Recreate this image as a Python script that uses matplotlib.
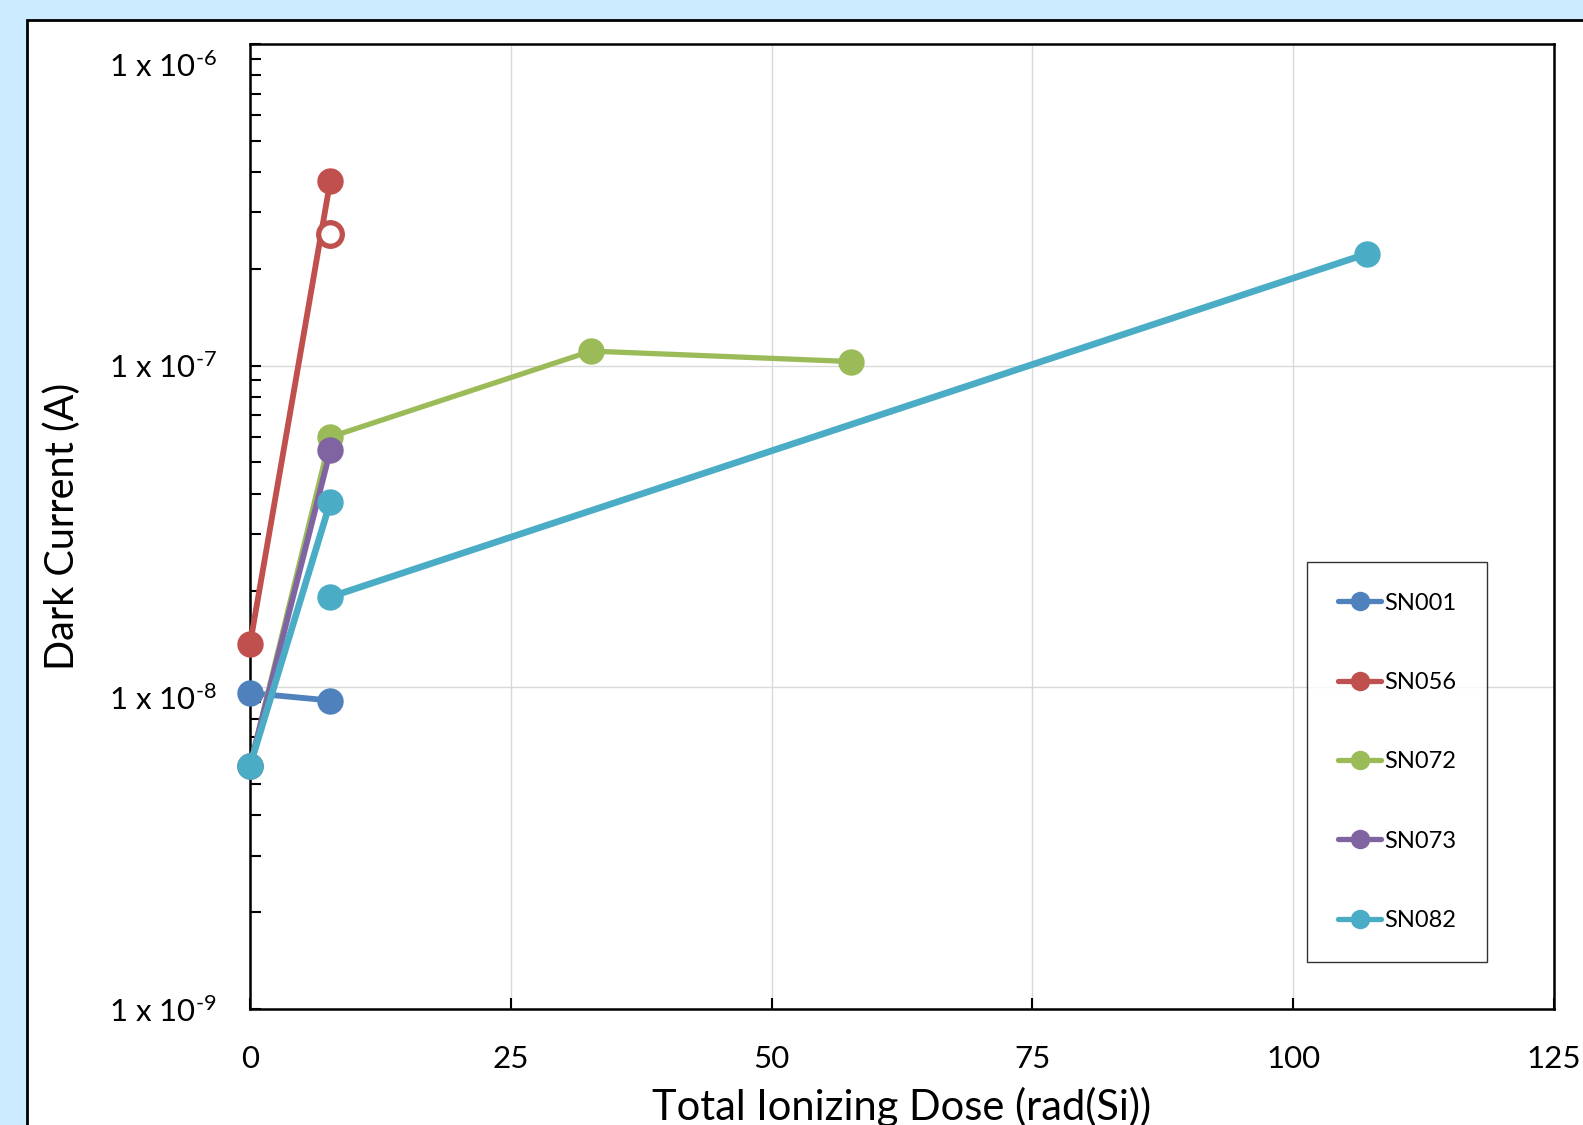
import numpy as np
import matplotlib
matplotlib.use('Agg')
import matplotlib.pyplot as plt
import matplotlib.transforms as mtransforms
from matplotlib.patches import Rectangle
from matplotlib.ticker import FixedLocator, FuncFormatter, NullFormatter

plt.rcParams['font.family'] = ['Lato', 'DejaVu Sans']
plt.rcParams['mathtext.fontset'] = 'custom'
plt.rcParams['mathtext.rm'] = 'Lato'
plt.rcParams['mathtext.default'] = 'regular'

# dose (rad(Si)) and dark current (A) per device; nan splits a series into runs
sn001_dose = [0.0, 7.7]
sn001_cur = [9.6e-9, 9.1e-9]
sn056_dose = [0.0, 7.7]
sn056_cur = [1.36e-8, 3.76e-7]
sn056_open_dose = [7.7]
sn056_open_cur = [2.56e-7]
sn072_dose = [0.0, 7.7, 32.7, 57.6]
sn072_cur = [5.7e-9, 6.0e-8, 1.11e-7, 1.03e-7]
sn073_dose = [0.0, 7.7]
sn073_cur = [5.7e-9, 5.45e-8]
sn082_dose = [0.0, 7.7, np.nan, 7.7, 107.1]
sn082_cur = [5.7e-9, 3.77e-8, np.nan, 1.91e-8, 2.23e-7]

names = ['SN001', 'SN056', 'SN072', 'SN073', 'SN082']
colors = ['#4F81BD', '#C0504D', '#9BBB59', '#8064A2', '#4BACC6']

x_ticks = [0, 25, 50, 75, 100, 125]
y_ticks = [1e-9, 1e-8, 1e-7, 1e-6]
# vertical nudge (px) of each y tick label
y_label_shift = [0, -10, 0, -20]

W, H = 1583, 1125
fig = plt.figure(figsize=(W / 100, H / 100), dpi=100)
fig.patch.set_facecolor('#CCEBFE')

# white chart panel with a black border
panel = Rectangle((27 / W, -0.1), 1.2, 1 - 20 / H + 0.1, transform=fig.transFigure,
                  facecolor='white', edgecolor='black', linewidth=2.0, zorder=-10)
fig.add_artist(panel)

ax = fig.add_axes([250 / W, 1 - 1009 / H, 1304 / W, 965 / H])
ax.set_yscale('log')
ax.set_xlim(0, 125)
ax.set_ylim(1e-9, 1e-6)

series = [(sn001_dose, sn001_cur), (sn056_dose, sn056_cur), (sn072_dose, sn072_cur),
          (sn073_dose, sn073_cur), (sn082_dose, sn082_cur)]
widths = [4.2, 4.2, 3.8, 4.2, 4.8]
for (d, c), name, col, lw in zip(series, names, colors, widths):
    ax.plot(d, c, color=col, lw=lw, marker='o', ms=18, label=name, zorder=3,
            clip_on=False, solid_capstyle='round')

# open marker on SN056
ax.plot(sn056_open_dose, sn056_open_cur, 'o', ms=17, mfc='white', mec=colors[1],
        mew=3.8, zorder=4)

ax.xaxis.set_major_locator(FixedLocator(x_ticks))
ax.yaxis.set_major_locator(FixedLocator(y_ticks))
ax.yaxis.set_major_formatter(FuncFormatter(
    lambda v, p: '1 x 10$^{\\text{%d}}$' % int(round(np.log10(v)))))
ax.yaxis.set_minor_formatter(NullFormatter())

ax.grid(True, which='major', color='#D9D9D9', lw=1.0, zorder=0)
ax.set_axisbelow(True)
ax.tick_params(axis='both', which='both', direction='in', length=8, width=1.5,
               labelsize=22.5, colors='black')
ax.tick_params(axis='y', which='both', pad=24, right=False)
ax.tick_params(axis='x', pad=26, top=False)
for s in ax.spines.values():
    s.set_linewidth(1.8)

for t, dy in zip(ax.yaxis.get_major_ticks(len(y_ticks)), y_label_shift):
    t.label1.set_transform(t.label1.get_transform() +
                           mtransforms.ScaledTranslation(0, dy / 100, fig.dpi_scale_trans))

ax.set_xlabel('Total Ionizing Dose (rad(Si))', fontsize=30)
ax.xaxis.label.set_va('baseline')
ax.xaxis.set_label_coords(0.5, -(1120 - 1009) / 965)
ax.set_ylabel('Dark Current (A)', fontsize=28.5)
ax.yaxis.set_label_coords(-(250 - 81) / 1304, 0.5)

leg = ax.legend(loc='upper left', bbox_to_anchor=((1307 - 250) / 1304, 1 - (562 - 44) / 965),
                frameon=True, fancybox=False, fontsize=17, handlelength=1.85,
                handletextpad=0.12, labelspacing=2.47, borderpad=1.3,
                borderaxespad=0)
leg.get_frame().set_edgecolor('black')
leg.get_frame().set_linewidth(1.0)
for h in leg.legend_handles:
    h.set_markersize(13)
    h.set_linewidth(3.8)

fig.savefig('out.png', dpi=100, facecolor=fig.get_facecolor())
